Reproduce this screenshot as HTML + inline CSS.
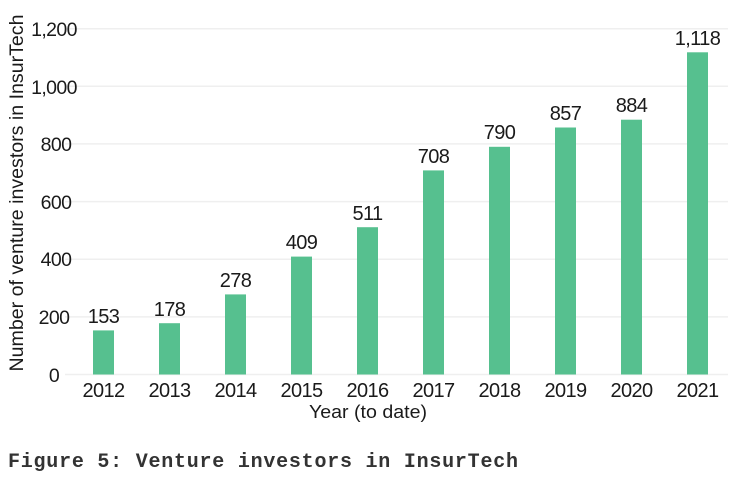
<!DOCTYPE html>
<html><head><style>
html,body{margin:0;padding:0;background:#fff;}
svg{display:block;}
</style></head><body>
<svg width="734" height="478" xmlns="http://www.w3.org/2000/svg">
<g stroke="#efefef" stroke-width="1.5">
<line x1="65" x2="728" y1="374.5" y2="374.5"/>
<line x1="65" x2="728" y1="316.9" y2="316.9"/>
<line x1="65" x2="728" y1="259.2" y2="259.2"/>
<line x1="65" x2="728" y1="201.6" y2="201.6"/>
<line x1="65" x2="728" y1="143.9" y2="143.9"/>
<line x1="65" x2="728" y1="86.3" y2="86.3"/>
<line x1="65" x2="728" y1="28.7" y2="28.7"/>
</g>
<g font-family="Liberation Sans, sans-serif" font-size="19.5" fill="#1a1a1a" text-anchor="middle" letter-spacing="-0.6">
<text x="54" y="382">0</text>
<text x="54" y="324">200</text>
<text x="56" y="266">400</text>
<text x="56" y="209">600</text>
<text x="56" y="151">800</text>
<text x="54" y="94">1,000</text>
<text x="54" y="36">1,200</text>
</g>
<text transform="translate(23,193) rotate(-90)" font-family="Liberation Sans, sans-serif" font-size="19" fill="#1a1a1a" text-anchor="middle" textLength="357" lengthAdjust="spacingAndGlyphs">Number of venture investors in InsurTech</text>
<g fill="#56c08f">
<rect x="93" y="330.4" width="21" height="44.1"/>
<rect x="159" y="323.2" width="21" height="51.3"/>
<rect x="225" y="294.4" width="21" height="80.1"/>
<rect x="291" y="256.6" width="21" height="117.9"/>
<rect x="357" y="227.2" width="21" height="147.3"/>
<rect x="423" y="170.4" width="21" height="204.1"/>
<rect x="489" y="146.8" width="21" height="227.7"/>
<rect x="555" y="127.5" width="21" height="247"/>
<rect x="621" y="119.7" width="21" height="254.8"/>
<rect x="687" y="52.3" width="21" height="322.2"/>
</g>
<g font-family="Liberation Sans, sans-serif" font-size="20" fill="#1a1a1a" text-anchor="middle" letter-spacing="-0.6">
<text x="103.5" y="323">153</text>
<text x="169.5" y="316">178</text>
<text x="235.5" y="287">278</text>
<text x="301.5" y="249">409</text>
<text x="367.5" y="220">511</text>
<text x="433.5" y="163">708</text>
<text x="499.5" y="139">790</text>
<text x="565.5" y="120">857</text>
<text x="631.5" y="112">884</text>
<text x="697.5" y="45">1,118</text>
<text x="103.5" y="397">2012</text>
<text x="169.5" y="397">2013</text>
<text x="235.5" y="397">2014</text>
<text x="301.5" y="397">2015</text>
<text x="367.5" y="397">2016</text>
<text x="433.5" y="397">2017</text>
<text x="499.5" y="397">2018</text>
<text x="565.5" y="397">2019</text>
<text x="631.5" y="397">2020</text>
<text x="697.5" y="397">2021</text>
<text x="368" y="418" font-size="18.5" textLength="118" lengthAdjust="spacingAndGlyphs" letter-spacing="0">Year (to date)</text>
</g>
<text x="8" y="467" font-family="Liberation Mono, monospace" font-size="20" font-weight="bold" fill="#333" textLength="510" lengthAdjust="spacing">Figure 5: Venture investors in InsurTech</text>
</svg>
</body></html>
